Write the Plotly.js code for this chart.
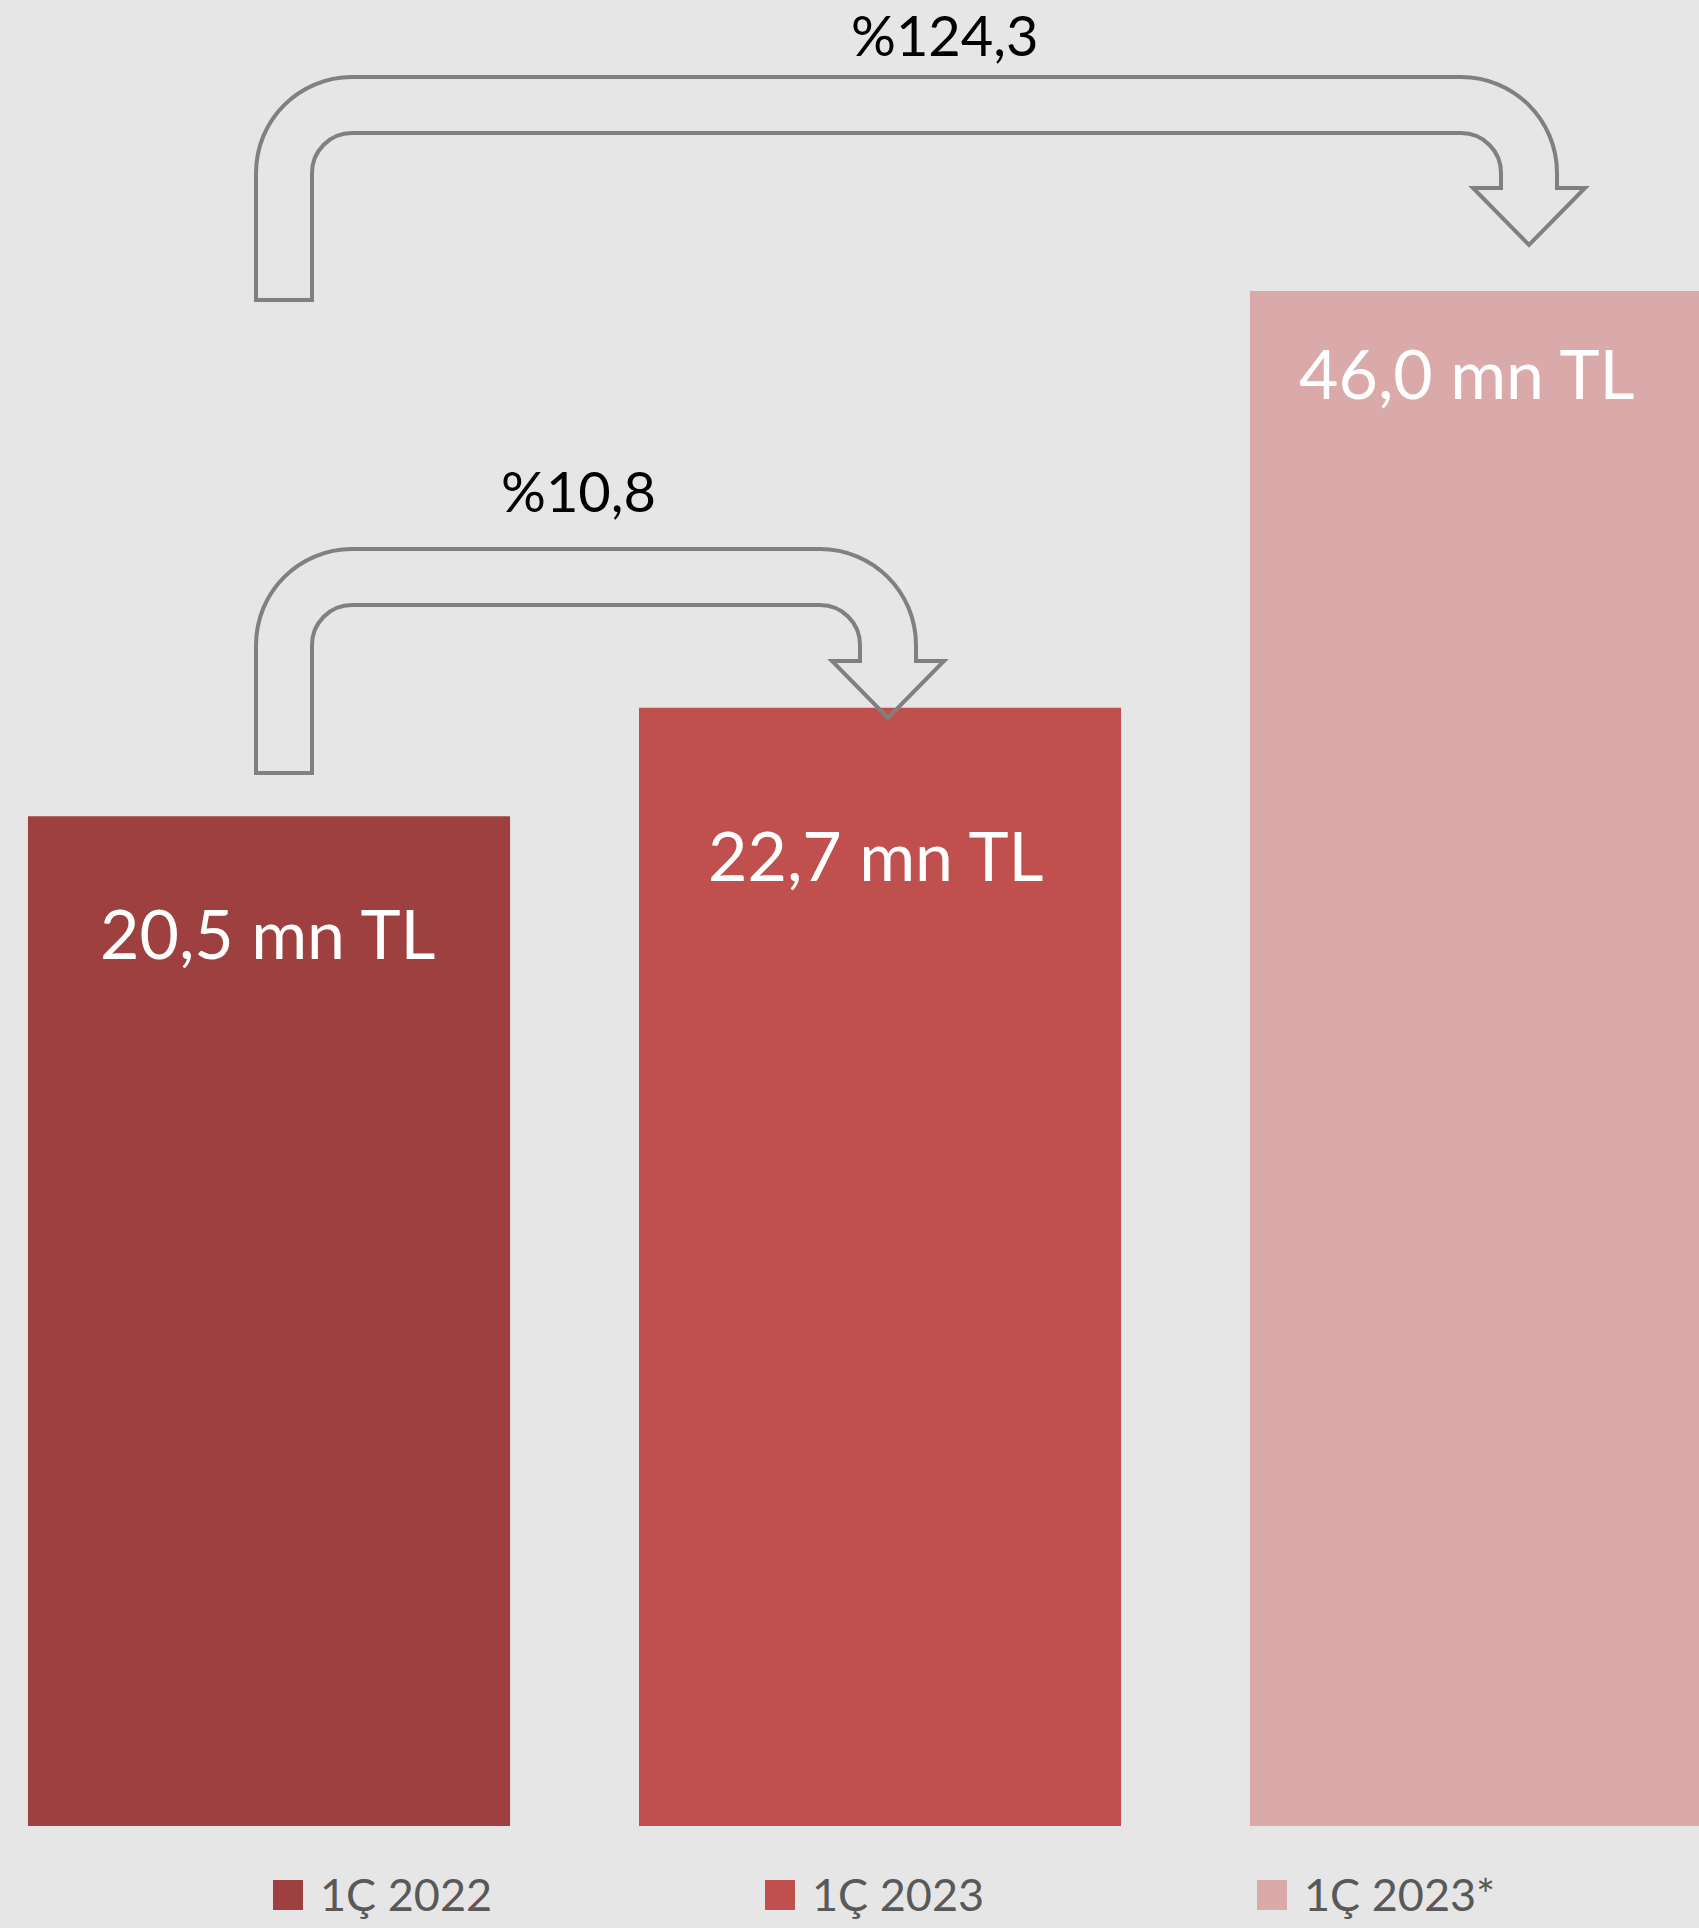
<!DOCTYPE html>
<html>
<head>
<meta charset="utf-8">
<script src="https://cdn.plot.ly/plotly-3.0.1.min.js"></script>
<style>
  html, body { margin: 0; padding: 0; background: #E6E6E6; overflow: hidden; }
  #chart { width: 1699px; height: 1928px; }
</style>
</head>
<body>
<div id="chart"></div>
<script>
// ---- data ----
const categories = ['1Ç 2022', '1Ç 2023', '1Ç 2023*'];
const values = [20.5, 22.7, 46.0];
const valueLabels = ['20,5 mn TL', '22,7 mn TL', '46,0 mn TL'];
const growthLabels = ['%10,8', '%124,3'];
const barColors = ['#9E403F', '#C0504D', '#DAAAAA'];

// ---- geometry (page pixels) ----
const W = 1699, H = 1928, MB = 102, PH = H - MB;
const px = x => x / W;
const py = y => 1 - y / PH;

function bentArrow(xL, yB, yT, xR, yH) {
  const w = 56, R = 96, r = 40, k = 0.5523, h = 56, tip = 57;
  const cx = xR - w / 2;
  const P = (x, y) => px(x).toFixed(5) + ',' + py(y).toFixed(5);
  let d = 'M' + P(xL, yB);
  d += ' L' + P(xL, yT + R);
  d += ' C' + P(xL, yT + R - k * R) + ' ' + P(xL + R - k * R, yT) + ' ' + P(xL + R, yT);
  d += ' L' + P(xR - R, yT);
  d += ' C' + P(xR - R + k * R, yT) + ' ' + P(xR, yT + R - k * R) + ' ' + P(xR, yT + R);
  d += ' L' + P(xR, yH);
  d += ' L' + P(cx + h, yH);
  d += ' L' + P(cx, yH + tip);
  d += ' L' + P(cx - h, yH);
  d += ' L' + P(xR - w, yH);
  d += ' L' + P(xR - w, yT + w + r);
  d += ' C' + P(xR - w, yT + w + r - k * r) + ' ' + P(xR - w - r + k * r, yT + w) + ' ' + P(xR - w - r, yT + w);
  d += ' L' + P(xL + w + r, yT + w);
  d += ' C' + P(xL + w + r - k * r, yT + w) + ' ' + P(xL + w, yT + w + r - k * r) + ' ' + P(xL + w, yT + w + r);
  d += ' L' + P(xL + w, yB);
  d += ' Z';
  return {
    type: 'path', xref: 'paper', yref: 'paper', path: d,
    line: { color: '#808080', width: 4 }, fillcolor: 'rgba(0,0,0,0)', layer: 'above'
  };
}

const traces = [
  {
    type: 'bar', x: categories.slice(0, 2), y: values.slice(0, 2),
    marker: { color: barColors.slice(0, 2) }, width: 0.789,
    xaxis: 'x', yaxis: 'y', hoverinfo: 'skip', showlegend: false
  },
  {
    type: 'bar', x: categories.slice(2), y: values.slice(2),
    marker: { color: barColors.slice(2) }, width: 0.789,
    xaxis: 'x', yaxis: 'y2', hoverinfo: 'skip', showlegend: false
  }
];

const labelPos = [[267, 932], [875, 854], [1466, 373]];
const growthPos = [[578, 490], [945, 34]];
const legendX = [273, 765, 1257];

const annotations = [];
valueLabels.forEach((t, i) => annotations.push({
  text: t, xref: 'paper', yref: 'paper', x: px(labelPos[i][0]), y: py(labelPos[i][1]),
  xanchor: 'center', yanchor: 'middle', showarrow: false,
  font: { family: 'Lato, sans-serif', size: 68, color: '#FFFFFF' }
}));
growthLabels.forEach((t, i) => annotations.push({
  text: t, xref: 'paper', yref: 'paper', x: px(growthPos[i][0]), y: py(growthPos[i][1]),
  xanchor: 'center', yanchor: 'middle', showarrow: false,
  font: { family: 'Lato, sans-serif', size: 56, color: '#000000' }
}));
categories.forEach((t, i) => annotations.push({
  text: t, xref: 'paper', yref: 'paper', x: px(legendX[i] + 45), y: py(1894),
  xanchor: 'left', yanchor: 'middle', showarrow: false,
  font: { family: 'Lato, sans-serif', size: 45, color: '#595959' }
}));

const shapes = [
  bentArrow(256, 773, 549, 916, 661),
  bentArrow(256, 300, 77, 1557, 188)
];
categories.forEach((t, i) => shapes.push({
  type: 'rect', xref: 'paper', yref: 'paper',
  x0: px(legendX[i]), x1: px(legendX[i] + 30), y0: py(1910), y1: py(1880),
  fillcolor: barColors[i], line: { width: 0 }, layer: 'above'
}));

const layout = {
  width: W, height: H,
  margin: { l: 0, r: 0, t: 0, b: MB, pad: 0 },
  paper_bgcolor: '#E6E6E6', plot_bgcolor: '#E6E6E6',
  barmode: 'overlay', showlegend: false,
  xaxis: { type: 'category', categoryorder: 'array', categoryarray: categories,
           range: [-0.4403, 2.3404], visible: false, fixedrange: true },
  yaxis: { range: [0, 37.07], visible: false, fixedrange: true },
  yaxis2: { range: [0, 54.72], overlaying: 'y', side: 'right', visible: false, fixedrange: true },
  annotations: annotations,
  shapes: shapes
};

Plotly.newPlot('chart', traces, layout, { staticPlot: true, displayModeBar: false });
</script>
</body>
</html>
